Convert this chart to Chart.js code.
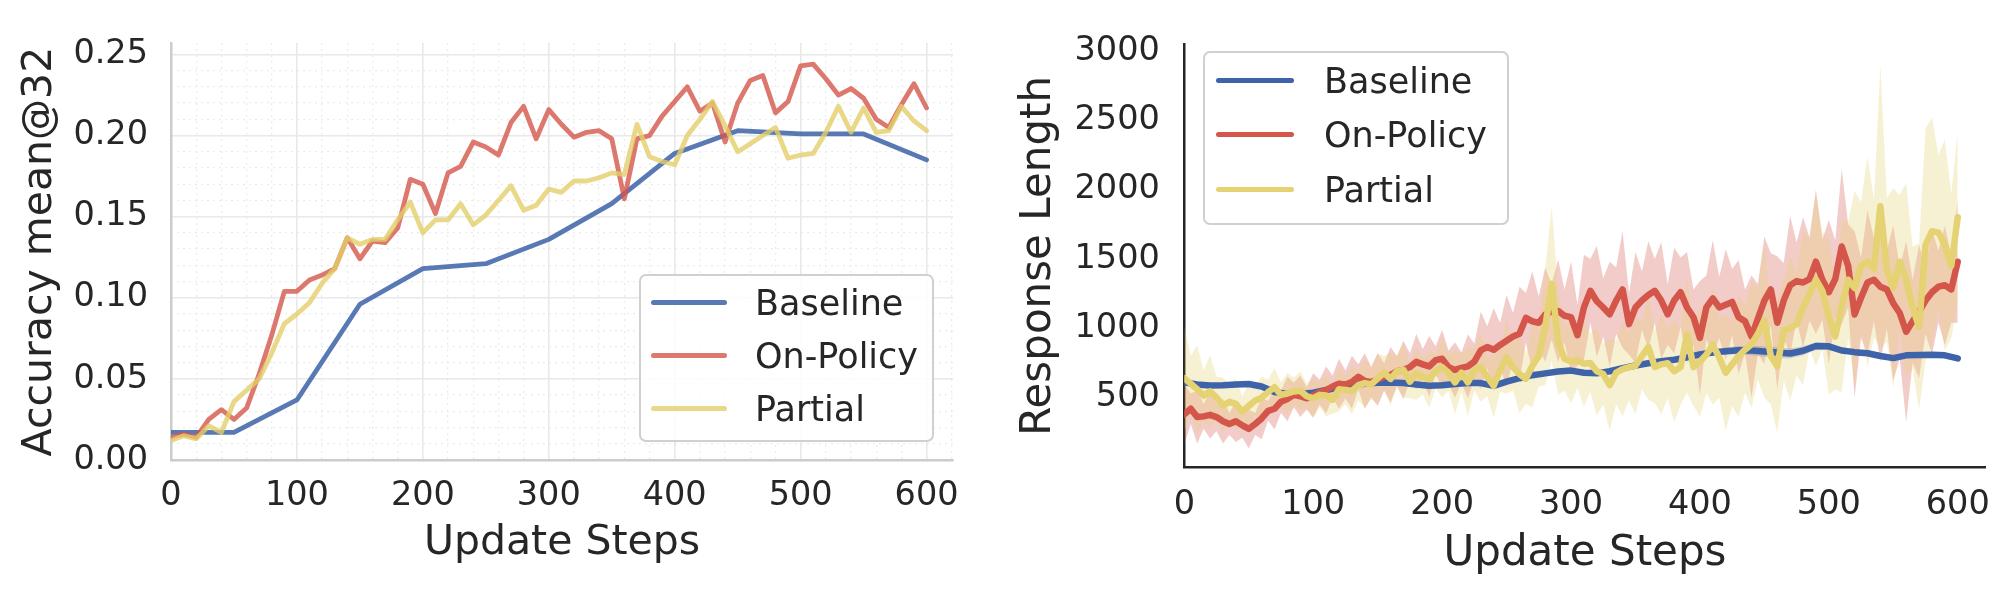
<!DOCTYPE html>
<html>
<head>
<meta charset="utf-8">
<title>Accuracy and response length</title>
<script src="https://cdn.jsdelivr.net/npm/chart.js@4.4.1/dist/chart.umd.min.js"></script>
<style>
  html, body { margin: 0; padding: 0; background: #fff; }
  body { width: 2013px; height: 602px; position: relative; overflow: hidden; font-family: 'DejaVu Sans', sans-serif; color: #262626; }
  canvas { position: absolute; top: 0; }
  #accChart { left: 0; }
  #lenChart { left: 1000px; }
  .legend { position: absolute; border: 2px solid #d0d0d0; border-radius: 7px; background: rgba(255,255,255,0.85); box-sizing: border-box; }
  .legend .item { position: absolute; height: 40px; line-height: 40px; font-size: 35px; white-space: nowrap; color: #262626; }
  .legend .swatch { position: absolute; height: 5px; border-radius: 3px; }
</style>
</head>
<body>
<canvas id="accChart" width="1000" height="602"></canvas>
<canvas id="lenChart" width="1013" height="602"></canvas>
<div id="accLegend" class="legend"></div>
<div id="lenLegend" class="legend"></div>
<script>
// ---- data: left panel (accuracy mean@32) ----
const seriesNames = ['Baseline', 'On-Policy', 'Partial'];
const accSteps = Array.from({ length: 61 }, (_, i) => i * 10);
const accBaseSteps = [0, 50, 100, 150, 200, 250, 300, 350, 400, 450, 500, 550, 600];
const accBaseline = [0.017, 0.017, 0.037, 0.096, 0.118, 0.121, 0.136, 0.158, 0.189, 0.203, 0.201, 0.201, 0.185];
const accOnPolicy = [
  0.014, 0.016, 0.014, 0.025, 0.031, 0.025, 0.032, 0.053, 0.077, 0.104,
  0.104, 0.111, 0.114, 0.118, 0.137, 0.124, 0.135, 0.134, 0.143, 0.173,
  0.170, 0.152, 0.177, 0.181, 0.196, 0.193, 0.188, 0.208, 0.218, 0.198,
  0.216, 0.207, 0.199, 0.202, 0.203, 0.198, 0.161, 0.198, 0.200, 0.212,
  0.221, 0.230, 0.215, 0.220, 0.196, 0.220, 0.234, 0.237, 0.214, 0.221,
  0.243, 0.244, 0.235, 0.225, 0.229, 0.223, 0.210, 0.205, 0.219, 0.232,
  0.217
];
const accPartial = [
  0.012, 0.015, 0.013, 0.021, 0.017, 0.036, 0.043, 0.050, 0.066, 0.084,
  0.090, 0.097, 0.109, 0.118, 0.137, 0.133, 0.136, 0.136, 0.148, 0.159,
  0.140, 0.148, 0.148, 0.158, 0.145, 0.151, 0.160, 0.169, 0.154, 0.157,
  0.167, 0.165, 0.172, 0.172, 0.174, 0.177, 0.176, 0.207, 0.187, 0.184,
  0.182, 0.200, 0.210, 0.221, 0.206, 0.190, 0.195, 0.200, 0.205, 0.186,
  0.188, 0.189, 0.202, 0.218, 0.202, 0.217, 0.202, 0.203, 0.218, 0.209,
  0.203
];
const accTicks = [0, 0.05, 0.10, 0.15, 0.20, 0.25];

// ---- data: right panel (response length) ----
const lenBaseSteps = Array.from({ length: 61 }, (_, i) => i * 10);
const lenSteps = Array.from({ length: 121 }, (_, i) => i * 5);
const lenBaseline = [
  610, 595, 588, 590, 595, 598, 580, 540, 527, 527,
  535, 555, 575, 592, 600, 607, 609, 605, 595, 585,
  590, 598, 605, 605, 585, 615, 640, 662, 675, 688,
  695, 680, 675, 690, 712, 732, 748, 762, 773, 790,
  812, 825, 835, 842, 840, 832, 825, 818, 838, 872,
  870, 840, 828, 820, 800, 785, 805, 808, 810, 805,
  783
];
const lenBaselineSpread = [
  20, 15, 14, 12, 12, 14, 15, 16, 14, 12,
  12, 13, 14, 12, 12, 13, 14, 14, 13, 12,
  14, 15, 14, 13, 16, 18, 16, 15, 16, 18,
  20, 18, 16, 18, 20, 22, 20, 18, 20, 22,
  24, 22, 26, 30, 34, 38, 40, 36, 32, 28,
  24, 22, 20, 18, 18, 16, 16, 15, 15, 14,
  14
];
const lenOnPolicy = [
  380, 420, 360, 365, 376, 360, 330, 310, 330, 300,
  275, 310, 350, 405, 420, 470, 490, 520, 510, 495,
  515, 540, 555, 580, 600, 595, 612, 650, 620, 612,
  630, 650, 665, 690, 700, 720, 758, 740, 725, 770,
  780, 720, 700, 715, 725, 760, 840, 865, 845, 880,
  910, 940, 960, 1075, 1050, 1040, 1100, 1120, 1125, 1090,
  1080, 950, 1150, 1270, 1195, 1150, 1100, 1200, 1280, 1030,
  1150, 1200, 1240, 1270, 1200, 1100, 1200, 1260, 1150, 1080,
  930, 1150, 1215, 1150, 1170, 1190, 1080, 1050, 940, 1070,
  1200, 1280, 1040, 1200, 1310, 1340, 1330, 1355, 1480, 1350,
  1260, 1355, 1590, 1450, 1100, 1220, 1330, 1350, 1300, 1280,
  1180, 1110, 975, 1050, 1120, 1200, 1260, 1300, 1310, 1280,
  1480
];
const lenOnPolicySpread = [
  220, 110, 190, 90, 170, 100, 160, 80, 150, 90,
  140, 80, 150, 70, 150, 80, 160, 90, 150, 80,
  160, 90, 170, 80, 180, 100, 190, 90, 200, 110,
  190, 100, 200, 110, 210, 100, 200, 110, 220, 100,
  210, 120, 200, 110, 230, 130, 280, 150, 300, 160,
  330, 170, 340, 180, 360, 190, 340, 200, 370, 190,
  400, 220, 380, 230, 400, 210, 380, 240, 420, 220,
  400, 210, 390, 230, 420, 220, 380, 250, 400, 200,
  410, 230, 420, 220, 400, 240, 410, 230, 440, 250,
  460, 260, 480, 270, 500, 280, 470, 300, 520, 290,
  520, 280, 560, 300, 600, 290, 520, 300, 540, 280,
  560, 330, 650, 300, 480, 240, 450, 260, 430, 240,
  440
];
const lenPartial = [
  640, 600, 560, 515, 545, 500, 445, 470, 455, 400,
  440, 480, 500, 540, 575, 520, 530, 545, 550, 510,
  495, 520, 515, 485, 560, 555, 550, 590, 605, 595,
  640, 680, 635, 690, 700, 615, 675, 650, 635, 690,
  720, 680, 610, 680, 610, 700, 720, 650, 585, 700,
  790, 720, 670, 635, 730, 800, 1010, 1320, 900, 780,
  760, 770, 745, 750, 690, 670, 590, 680, 705, 720,
  730, 800, 865, 720, 740, 748, 690, 720, 955, 720,
  760, 810, 880, 790, 680, 740, 800, 845, 885, 960,
  1060, 800, 725, 985, 1000, 1030, 1150, 1250, 1350, 1270,
  1080, 940, 1160, 1350, 1290, 1450, 1480, 1430, 1880, 1420,
  1290, 1480, 1350, 1150, 1010, 1600, 1700, 1690, 1600, 1450,
  1800
];
const lenPartialSpread = [
  380, 200, 320, 180, 260, 150, 200, 120, 180, 110,
  160, 100, 150, 90, 140, 90, 150, 100, 140, 90,
  140, 90, 150, 100, 160, 100, 170, 110, 180, 110,
  180, 120, 190, 110, 200, 120, 190, 130, 210, 120,
  220, 130, 230, 140, 240, 150, 250, 140, 230, 160,
  260, 170, 280, 180, 300, 220, 420, 560, 380, 230,
  300, 200, 310, 210, 320, 220, 330, 230, 340, 240,
  350, 240, 380, 260, 360, 250, 370, 270, 420, 280,
  400, 280, 430, 290, 420, 300, 440, 310, 460, 330,
  560, 350, 480, 360, 520, 370, 560, 400, 620, 420,
  560, 380, 620, 420, 700, 460, 760, 500, 1020, 520,
  720, 480, 700, 440, 600, 840, 820, 560, 760, 520,
  620
];
const stepTicks = [0, 100, 200, 300, 400, 500, 600];
const lenTicks = [500, 1000, 1500, 2000, 2500, 3000];

// ---- styles ----
const TEXT = '#262626';
const FONT = "'DejaVu Sans', sans-serif";
const TICK_SIZE = 33.5;
const accColors = ['rgba(70,106,172,0.9)', 'rgba(212,86,74,0.8)', 'rgba(226,206,105,0.8)'];
const lenColors = ['#3f63a9', '#d4564a', '#e5d273'];
const lenBands = ['rgba(63,99,169,0.22)', 'rgba(212,86,74,0.3)', 'rgba(228,209,112,0.3)'];

Chart.defaults.font.family = FONT;
Chart.defaults.color = TEXT;

function pts(xs, ys) {
  return ys.map((y, i) => ({ x: xs[i], y: y }));
}

function lineSet(label, xs, ys, color, width, order) {
  return {
    label: label,
    data: pts(xs, ys),
    borderColor: color,
    backgroundColor: color,
    borderWidth: width,
    pointRadius: 0,
    tension: 0,
    borderJoinStyle: 'round',
    borderCapStyle: 'round',
    fill: false,
    order: order
  };
}

function bandSets(xs, mean, spread, color, order) {
  const lower = mean.map((v, i) => v - spread[i]);
  const upper = mean.map((v, i) => v + spread[i]);
  return [
    { data: pts(xs, lower), borderWidth: 0, pointRadius: 0, fill: false, order: order },
    { data: pts(xs, upper), borderWidth: 0, pointRadius: 0, fill: '-1', backgroundColor: color, order: order }
  ];
}

function fixSize(prop, size) {
  return function(scale) { scale[prop] = size; };
}

// Left panel: accuracy
new Chart(document.getElementById('accChart'), {
  type: 'line',
  data: {
    datasets: [
      lineSet(seriesNames[2], accSteps, accPartial, accColors[2], 4.8, 1),
      lineSet(seriesNames[1], accSteps, accOnPolicy, accColors[1], 4.8, 2),
      lineSet(seriesNames[0], accBaseSteps, accBaseline, accColors[0], 4.8, 3)
    ]
  },
  options: {
    responsive: false,
    animation: false,
    layout: { padding: { top: 32.4, right: 47, left: 0, bottom: 0 } },
    plugins: { legend: { display: false }, tooltip: { enabled: false } },
    scales: {
      xMinor: {
        type: 'linear', position: 'bottom', min: 0, max: 621,
        ticks: { display: false, stepSize: 20, includeBounds: false },
        grid: { color: '#ececec', lineWidth: 1.3, drawTicks: false },
        border: { display: false, dash: [2, 4] },
        afterFit: fixSize('height', 0)
      },
      yMinor: {
        type: 'linear', position: 'left', min: 0, max: 0.257,
        ticks: { display: false, stepSize: 0.01, includeBounds: false },
        grid: { color: '#ececec', lineWidth: 1.3, drawTicks: false },
        border: { display: false, dash: [2, 4] },
        afterFit: fixSize('width', 0)
      },
      x: {
        type: 'linear', position: 'bottom', min: 0, max: 621,
        afterBuildTicks: s => { s.ticks = stepTicks.map(v => ({ value: v })); },
        ticks: { font: { size: TICK_SIZE }, color: TEXT, padding: 16.6, autoSkip: false, maxRotation: 0, callback: v => String(v) },
        grid: { color: '#e9e9e9', lineWidth: 1.6, drawTicks: false },
        border: { color: '#cccccc', width: 2.5 },
        title: { display: true, text: 'Update Steps', font: { size: 41 }, color: TEXT, padding: { top: 0, bottom: 33.9 } },
        afterFit: fixSize('height', 142)
      },
      y: {
        type: 'linear', position: 'left', min: 0, max: 0.257,
        afterBuildTicks: s => { s.ticks = accTicks.map(v => ({ value: v })); },
        ticks: { font: { size: TICK_SIZE }, color: TEXT, padding: 23, callback: v => v.toFixed(2) },
        grid: { color: '#e9e9e9', lineWidth: 1.6, drawTicks: false },
        border: { color: '#cccccc', width: 2.5 },
        title: { display: true, text: 'Accuracy mean@32', font: { size: 41 }, color: TEXT, padding: { top: 16.2, bottom: 0 } },
        afterFit: fixSize('width', 171)
      }
    }
  }
});

// Right panel: response length
new Chart(document.getElementById('lenChart'), {
  type: 'line',
  data: {
    datasets: [
      lineSet(seriesNames[2], lenSteps, lenPartial, lenColors[2], 6.5, 1),
      lineSet(seriesNames[1], lenSteps, lenOnPolicy, lenColors[1], 6.5, 2),
      lineSet(seriesNames[0], lenBaseSteps, lenBaseline, lenColors[0], 6.5, 3)
    ]
      .concat(bandSets(lenBaseSteps, lenBaseline, lenBaselineSpread, lenBands[0], 4))
      .concat(bandSets(lenSteps, lenOnPolicy, lenOnPolicySpread, lenBands[1], 6))
      .concat(bandSets(lenSteps, lenPartial, lenPartialSpread, lenBands[2], 5))
  },
  options: {
    responsive: false,
    animation: false,
    layout: { padding: { top: 31.8, right: 27.3, left: 0, bottom: 0 } },
    plugins: { legend: { display: false }, tooltip: { enabled: false } },
    scales: {
      x: {
        type: 'linear', position: 'bottom', min: 0, max: 621.7,
        afterBuildTicks: s => { s.ticks = stepTicks.map(v => ({ value: v })); },
        ticks: { font: { size: TICK_SIZE }, color: TEXT, padding: 17.9, autoSkip: false, maxRotation: 0, callback: v => String(v) },
        grid: { display: false, drawTicks: false },
        border: { display: true, color: '#262626', width: 2.5 },
        title: { display: true, text: 'Update Steps', font: { size: 42 }, color: TEXT, padding: { top: 0, bottom: 23 } },
        afterFit: fixSize('height', 135)
      },
      y: {
        type: 'linear', position: 'left', min: 0, max: 3045,
        afterBuildTicks: s => { s.ticks = lenTicks.map(v => ({ value: v })); },
        ticks: { font: { size: TICK_SIZE }, color: TEXT, padding: 24.5, callback: v => String(v) },
        grid: { display: false, drawTicks: false },
        border: { display: true, color: '#262626', width: 2.5 },
        title: { display: true, text: 'Response Length', font: { size: 42 }, color: TEXT, padding: { top: 13.6, bottom: 0 } },
        afterFit: fixSize('width', 184.3)
      }
    }
  }
});

// HTML legends placed inside each panel
function buildLegend(id, box, colors) {
  const el = document.getElementById(id);
  el.style.left = box.left + 'px';
  el.style.top = box.top + 'px';
  el.style.width = box.width + 'px';
  el.style.height = box.height + 'px';
  seriesNames.forEach((name, i) => {
    const cy = box.firstRow + i * box.rowGap;
    const sw = document.createElement('div');
    sw.className = 'swatch';
    sw.style.left = box.swatchLeft + 'px';
    sw.style.width = box.swatchWidth + 'px';
    sw.style.top = (cy - 2.5) + 'px';
    sw.style.background = colors[i];
    el.appendChild(sw);
    const item = document.createElement('div');
    item.className = 'item';
    item.style.left = box.textLeft + 'px';
    item.style.top = (cy - 19.4) + 'px';
    item.textContent = name;
    el.appendChild(item);
  });
}

buildLegend('accLegend', { left: 639, top: 274, width: 295, height: 168, firstRow: 26.7, rowGap: 52.8, swatchLeft: 10, swatchWidth: 76, textLeft: 114 }, accColors);
buildLegend('lenLegend', { left: 1203, top: 51, width: 306, height: 174, firstRow: 27.5, rowGap: 54.3, swatchLeft: 11, swatchWidth: 78, textLeft: 119 }, lenColors);
</script>
</body>
</html>
